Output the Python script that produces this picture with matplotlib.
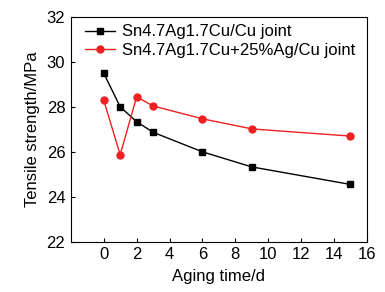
import matplotlib
matplotlib.use('Agg')
import matplotlib.pyplot as plt

plt.rcParams['font.family'] = ['Liberation Sans', 'DejaVu Sans']

# dane
days = [0, 1, 2, 3, 6, 9, 15]
base_strength = [29.5, 28.0, 27.34, 26.87, 26.0, 25.33, 24.55]
ag_strength = [28.3, 25.87, 28.45, 28.04, 27.47, 27.02, 26.7]
label_base = 'Sn4.7Ag1.7Cu/Cu joint'
label_ag = 'Sn4.7Ag1.7Cu+25%Ag/Cu joint'

fig = plt.figure(figsize=(3.85, 2.92), dpi=100)
ax = fig.add_axes([0.184, 0.172, 0.769, 0.770])

ax.plot(days, base_strength, color='black', marker='s', markersize=5, linewidth=1.0, label=label_base)
ax.plot(days, ag_strength, color='#ee2020', marker='o', markersize=5, linewidth=1.0, label=label_ag)

ax.set_xlim(-2, 16)
ax.set_ylim(22, 32)
ax.set_xticks(range(0, 17, 2))
ax.set_yticks(range(22, 33, 2))
ax.tick_params(direction='in', length=3, width=0.8, labelsize=12, pad=4)
for s in ax.spines.values():
    s.set_linewidth(0.8)

ax.set_xlabel('Aging time/d', fontsize=12, labelpad=5)
ax.set_ylabel('Tensile strength/MPa', fontsize=12, labelpad=5)

ax.legend(loc='upper left', bbox_to_anchor=(0, 1.03), frameon=False, fontsize=12,
          handlelength=1.8, handletextpad=0.4, borderaxespad=0.45, labelspacing=0.2)

plt.savefig('out.png', dpi=100)
